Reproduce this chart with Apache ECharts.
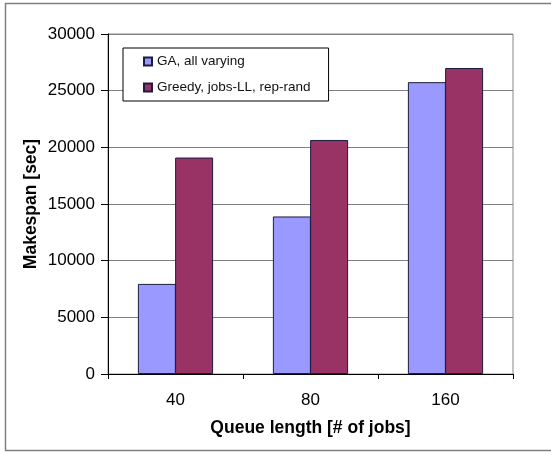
<!DOCTYPE html>
<html>
<head>
<meta charset="utf-8">
<script src="https://cdn.jsdelivr.net/npm/echarts@6/dist/echarts.min.js"></script>
<style>
  html, body { margin: 0; padding: 0; background: #fff; }
  #chart { width: 551px; height: 453px; }
</style>
</head>
<body>
<div id="chart"></div>
<script>
// Queue lengths on the x axis and makespan (seconds) for each scheduler
const categories = ['40', '80', '160'];
const gaValues = [7950, 13900, 25750];
const greedyValues = [19100, 20650, 27000];
const seriesNames = ['GA, all varying', 'Greedy, jobs-LL, rep-rand'];

const FONT = 'Arial, "Liberation Sans", sans-serif';

const chart = echarts.init(document.getElementById('chart'), null, { renderer: 'canvas' });

chart.setOption({
  backgroundColor: '#ffffff',
  animation: false,
  graphic: [{
    type: 'rect',
    shape: { x: 5.5, y: 3.5, width: 560, height: 447 },
    style: { fill: 'none', stroke: '#7f7f7f', lineWidth: 1.5 },
    z: -1
  }],
  grid: {
    left: 108, right: 38, top: 34, bottom: 79,
    show: true, borderColor: '#888888', borderWidth: 1,
    backgroundColor: 'transparent'
  },
  legend: {
    orient: 'vertical',
    left: 123, top: 48,
    padding: [5, 18, 5, 20],
    itemGap: 9,
    itemWidth: 8, itemHeight: 8,
    icon: 'rect',
    backgroundColor: '#ffffff',
    borderColor: '#000000', borderWidth: 1,
    textStyle: { fontFamily: FONT, fontSize: 13.5, color: '#111', lineHeight: 17 },
    data: seriesNames
  },
  xAxis: {
    type: 'category',
    data: categories,
    boundaryGap: true,
    name: 'Queue length [# of jobs]',
    nameLocation: 'middle',
    nameGap: 45,
    nameMoveOverlap: false,
    nameTextStyle: { fontFamily: FONT, fontSize: 17.5, fontWeight: 'bold', color: '#000' },
    axisLine: { lineStyle: { color: '#000', width: 1 } },
    axisTick: { show: true, length: 5, alignWithLabel: false, lineStyle: { color: '#000' } },
    axisLabel: { fontFamily: FONT, fontSize: 17, color: '#000', margin: 18 },
    splitLine: { show: false }
  },
  yAxis: {
    type: 'value',
    min: 0, max: 30000, interval: 5000,
    name: 'Makespan [sec]',
    nameLocation: 'middle',
    nameGap: 68,
    nameMoveOverlap: false,
    nameTextStyle: { fontFamily: FONT, fontSize: 17.5, fontWeight: 'bold', color: '#000' },
    axisLine: { show: true, lineStyle: { color: '#000', width: 1 } },
    axisTick: { show: true, length: 7, lineStyle: { color: '#000' } },
    axisLabel: {
      fontFamily: FONT, fontSize: 17, color: '#000', margin: 13,
      formatter: function (v) { return String(v); }
    },
    splitLine: { show: true, lineStyle: { color: '#808080', width: 1.2 } }
  },
  series: [
    {
      name: seriesNames[0],
      type: 'bar',
      data: gaValues,
      barWidth: 38,
      barGap: '-2%',
      itemStyle: { color: '#9999ff', borderColor: '#1c1c40', borderWidth: 1 }
    },
    {
      name: seriesNames[1],
      type: 'bar',
      data: greedyValues,
      barWidth: 38,
      barGap: '-2%',
      itemStyle: { color: '#993366', borderColor: '#1c1c40', borderWidth: 1 }
    }
  ]
});
</script>
</body>
</html>
